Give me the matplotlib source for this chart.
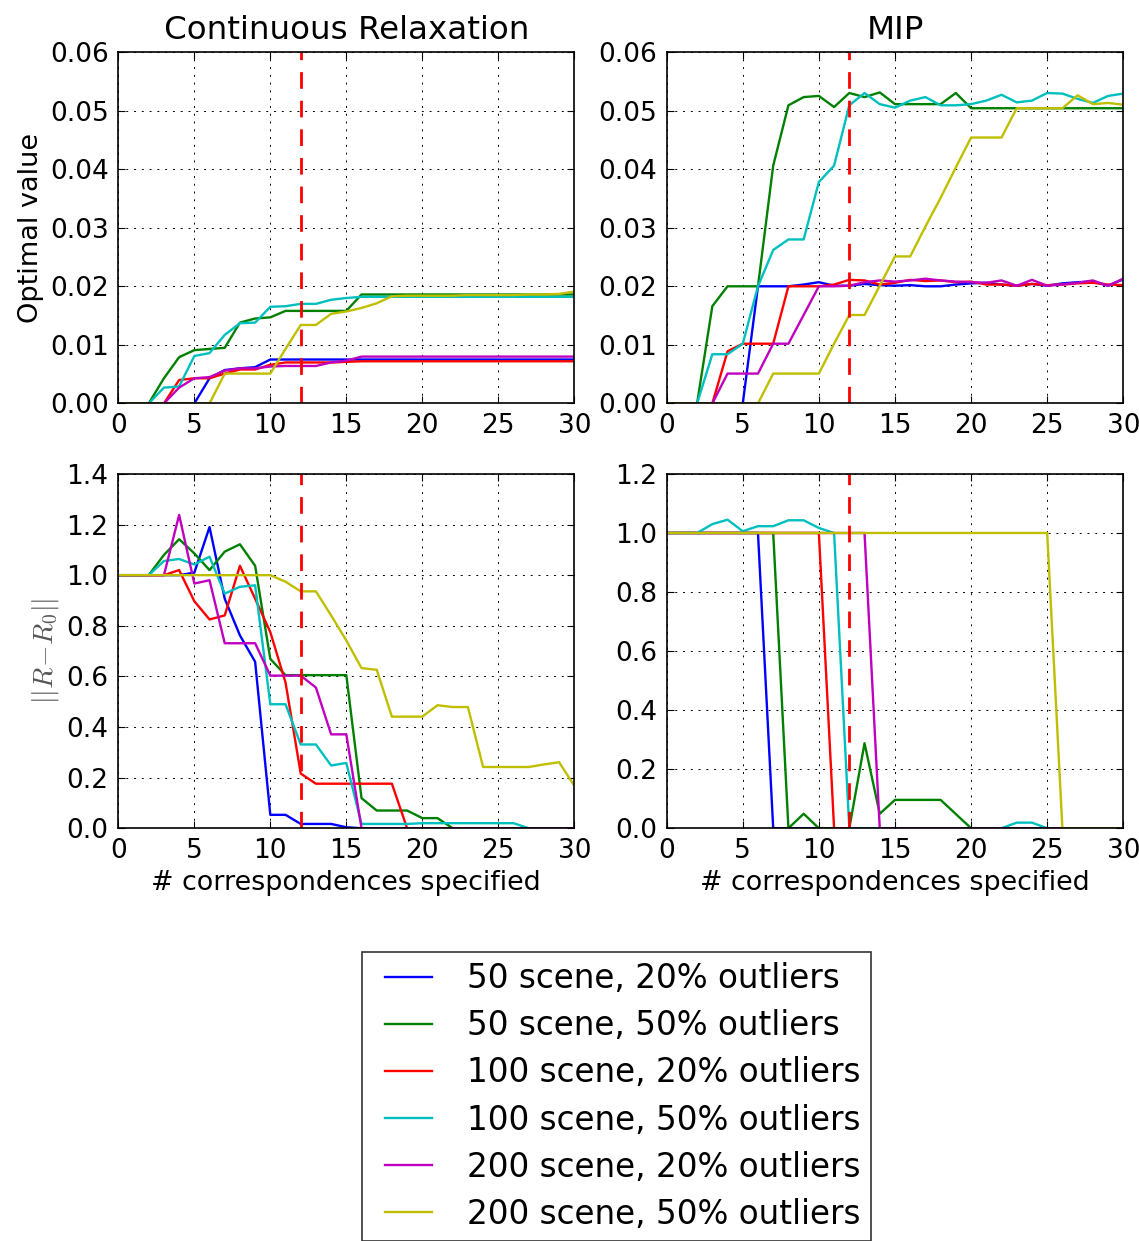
import matplotlib
matplotlib.use("Agg")
import matplotlib.pyplot as plt
import numpy as np
from matplotlib.legend_handler import HandlerLine2D

plt.rcParams.update({
    "font.family": ["DejaVu Sans"],
    "font.size": 19,
    "xtick.direction": "in",
    "ytick.direction": "in",
    "xtick.top": True,
    "ytick.right": True,
    "xtick.major.size": 5,
    "ytick.major.size": 5,
    "xtick.major.pad": 7,
    "ytick.major.pad": 7,
    "axes.linewidth": 1.2,
    "mathtext.fontset": "cm",
})

x = np.arange(31)

labels = [
    "50 scene, 20% outliers",
    "50 scene, 50% outliers",
    "100 scene, 20% outliers",
    "100 scene, 50% outliers",
    "200 scene, 20% outliers",
    "200 scene, 50% outliers",
]
colors = ["#0000ff", "#008000", "#ff0000", "#00bfbf", "#bf00bf", "#bfbf00"]

# Optimal value, continuous relaxation
cr_opt_50_20 = [0, 0, 0, 0, 0, 0, 0.0043, 0.0057, 0.0060, 0.0062, 0.0075,
                0.0075, 0.0075, 0.0075, 0.0075, 0.0075, 0.0075, 0.0075, 0.0075, 0.0075, 0.0075,
                0.0075, 0.0075, 0.0075, 0.0075, 0.0075, 0.0075, 0.0075, 0.0075, 0.0075, 0.0075]
cr_opt_50_50 = [0, 0, 0, 0.0043, 0.0079, 0.0091, 0.0093, 0.0095, 0.0138, 0.0145, 0.0147,
                0.0158, 0.0158, 0.0158, 0.0158, 0.0158, 0.0186, 0.0186, 0.0186, 0.0186, 0.0186,
                0.0186, 0.0186, 0.0186, 0.0186, 0.0186, 0.0186, 0.0186, 0.0186, 0.0186, 0.0186]
cr_opt_100_20 = [0, 0, 0, 0, 0.0040, 0.0043, 0.0043, 0.0051, 0.0058, 0.0058, 0.0066,
                 0.0070, 0.0070, 0.0070, 0.0070, 0.0071, 0.0072, 0.0072, 0.0072, 0.0072, 0.0072,
                 0.0072, 0.0072, 0.0072, 0.0072, 0.0072, 0.0072, 0.0072, 0.0072, 0.0072, 0.0072]
cr_opt_100_50 = [0, 0, 0, 0.0027, 0.0029, 0.0081, 0.0086, 0.0117, 0.0137, 0.0138, 0.0165,
                 0.0166, 0.0170, 0.0170, 0.0177, 0.0180, 0.0182, 0.0182, 0.0182, 0.0182, 0.0182,
                 0.0182, 0.0182, 0.0182, 0.0182, 0.0182, 0.0182, 0.0182, 0.0182, 0.0182, 0.0182]
cr_opt_200_20 = [0, 0, 0, 0, 0.0027, 0.0043, 0.0045, 0.0056, 0.0060, 0.0060, 0.0063,
                 0.0064, 0.0064, 0.0064, 0.0070, 0.0073, 0.0080, 0.0080, 0.0080, 0.0080, 0.0080,
                 0.0080, 0.0080, 0.0080, 0.0080, 0.0080, 0.0080, 0.0080, 0.0080, 0.0080, 0.0080]
cr_opt_200_50 = [0, 0, 0, 0, 0, 0, 0, 0.0051, 0.0051, 0.0051, 0.0051,
                 0.0093, 0.0134, 0.0134, 0.0153, 0.0157, 0.0163, 0.0171, 0.0183, 0.0184, 0.0184,
                 0.0184, 0.0184, 0.0185, 0.0185, 0.0185, 0.0185, 0.0186, 0.0186, 0.0187, 0.0191]

# Optimal value, MIP
mip_opt_50_20 = [0, 0, 0, 0, 0, 0, 0.0200, 0.0200, 0.0200, 0.0203, 0.0207,
                 0.0201, 0.0201, 0.0204, 0.0202, 0.0201, 0.0202, 0.0200, 0.0200, 0.0203, 0.0205,
                 0.0206, 0.0203, 0.0201, 0.0204, 0.0201, 0.0205, 0.0207, 0.0208, 0.0201, 0.0212]
mip_opt_50_50 = [0, 0, 0, 0.0166, 0.0200, 0.0200, 0.0200, 0.0406, 0.0509, 0.0523, 0.0525,
                 0.0506, 0.0530, 0.0523, 0.0531, 0.0511, 0.0511, 0.0511, 0.0511, 0.0530, 0.0504,
                 0.0504, 0.0504, 0.0504, 0.0504, 0.0504, 0.0504, 0.0504, 0.0504, 0.0504, 0.0504]
mip_opt_100_20 = [0, 0, 0, 0, 0.0089, 0.0102, 0.0102, 0.0102, 0.0200, 0.0200, 0.0200,
                  0.0203, 0.0211, 0.0210, 0.0203, 0.0206, 0.0211, 0.0209, 0.0210, 0.0207, 0.0208,
                  0.0203, 0.0203, 0.0201, 0.0204, 0.0202, 0.0203, 0.0205, 0.0206, 0.0203, 0.0202]
mip_opt_100_50 = [0, 0, 0, 0.0084, 0.0084, 0.0102, 0.0200, 0.0262, 0.0280, 0.0280, 0.0378,
                  0.0406, 0.0509, 0.0530, 0.0511, 0.0505, 0.0517, 0.0523, 0.0509, 0.0509, 0.0511,
                  0.0517, 0.0527, 0.0514, 0.0517, 0.0530, 0.0529, 0.0520, 0.0513, 0.0525, 0.0529]
mip_opt_200_20 = [0, 0, 0, 0, 0.0051, 0.0051, 0.0051, 0.0102, 0.0102, 0.0151, 0.0200,
                  0.0200, 0.0201, 0.0207, 0.0210, 0.0208, 0.0210, 0.0213, 0.0210, 0.0208, 0.0207,
                  0.0206, 0.0210, 0.0201, 0.0211, 0.0201, 0.0203, 0.0206, 0.0210, 0.0201, 0.0213]
mip_opt_200_50 = [0, 0, 0, 0, 0, 0, 0, 0.0051, 0.0051, 0.0051, 0.0051,
                  0.0102, 0.0151, 0.0151, 0.0201, 0.0251, 0.0251, 0.0302, 0.0351, 0.0403, 0.0454,
                  0.0454, 0.0454, 0.0504, 0.0504, 0.0504, 0.0504, 0.0526, 0.0511, 0.0513, 0.0510]

# Rotation error, continuous relaxation
cr_err_50_20 = [1, 1, 1, 1, 1, 1.01, 1.19, 0.907, 0.762, 0.658, 0.053,
                0.053, 0.017, 0.017, 0.017, 0.004, 0, 0, 0, 0, 0,
                0, 0, 0, 0, 0, 0, 0, 0, 0, 0]
cr_err_50_50 = [1, 1, 1, 1.08, 1.142, 1.086, 1.02, 1.093, 1.122, 1.037, 0.669,
                0.605, 0.605, 0.605, 0.605, 0.605, 0.119, 0.07, 0.07, 0.07, 0.04,
                0.04, 0, 0, 0, 0, 0, 0, 0, 0, 0]
cr_err_100_20 = [1, 1, 1, 1, 1.02, 0.897, 0.825, 0.841, 1.037, 0.907, 0.775,
                 0.576, 0.216, 0.176, 0.176, 0.176, 0.176, 0.176, 0.176, 0, 0,
                 0, 0, 0, 0, 0, 0, 0, 0, 0, 0]
cr_err_100_50 = [1, 1, 1, 1.056, 1.064, 1.042, 1.073, 0.927, 0.954, 0.96, 0.49,
                 0.49, 0.331, 0.331, 0.248, 0.258, 0.017, 0.017, 0.017, 0.017, 0.02,
                 0.02, 0.02, 0.02, 0.02, 0.02, 0.02, 0, 0, 0, 0]
cr_err_200_20 = [1, 1, 1, 1, 1.238, 0.967, 0.98, 0.731, 0.731, 0.731, 0.603,
                 0.603, 0.603, 0.556, 0.371, 0.371, 0, 0, 0, 0, 0,
                 0, 0, 0, 0, 0, 0, 0, 0, 0, 0]
cr_err_200_50 = [1, 1, 1, 1, 1, 1, 1, 1, 1, 1, 1,
                 0.974, 0.936, 0.936, 0.841, 0.742, 0.633, 0.626, 0.441, 0.441, 0.441,
                 0.486, 0.479, 0.479, 0.242, 0.242, 0.242, 0.242, 0.252, 0.261, 0.168]

# Rotation error, MIP
mip_err_50_20 = [1, 1, 1, 1, 1, 1, 1, 0, 0, 0, 0,
                 0, 0, 0, 0, 0, 0, 0, 0, 0, 0,
                 0, 0, 0, 0, 0, 0, 0, 0, 0, 0]
mip_err_50_50 = [1, 1, 1, 1, 1, 1, 1, 1, 0, 0.049, 0,
                 0, 0, 0.288, 0.049, 0.096, 0.096, 0.096, 0.096, 0.048, 0,
                 0, 0, 0, 0, 0, 0, 0, 0, 0, 0]
mip_err_100_20 = [1, 1, 1, 1, 1, 1, 1, 1, 1, 1, 1,
                  0, 0, 0, 0, 0, 0, 0, 0, 0, 0,
                  0, 0, 0, 0, 0, 0, 0, 0, 0, 0]
mip_err_100_50 = [1, 1, 1, 1.03, 1.045, 1.006, 1.023, 1.023, 1.043, 1.043, 1.017,
                  1.0, 0, 0, 0, 0, 0, 0, 0, 0, 0,
                  0, 0, 0.019, 0.019, 0, 0, 0, 0, 0, 0]
mip_err_200_20 = [1, 1, 1, 1, 1, 1, 1, 1, 1, 1, 1,
                  1, 1, 1, 0, 0, 0, 0, 0, 0, 0,
                  0, 0, 0, 0, 0, 0, 0, 0, 0, 0]
mip_err_200_50 = [1, 1, 1, 1, 1, 1, 1, 1, 1, 1, 1,
                  1, 1, 1, 1, 1, 1, 1, 1, 1, 1,
                  1, 1, 1, 1, 1, 0, 0, 0, 0, 0]

threshold = 12

panels = [
    ([cr_opt_50_20, cr_opt_50_50, cr_opt_100_20, cr_opt_100_50, cr_opt_200_20, cr_opt_200_50],
     (0.06, 0.01, "%.2f")),
    ([mip_opt_50_20, mip_opt_50_50, mip_opt_100_20, mip_opt_100_50, mip_opt_200_20, mip_opt_200_50],
     (0.06, 0.01, "%.2f")),
    ([cr_err_50_20, cr_err_50_50, cr_err_100_20, cr_err_100_50, cr_err_200_20, cr_err_200_50],
     (1.4, 0.2, "%.1f")),
    ([mip_err_50_20, mip_err_50_50, mip_err_100_20, mip_err_100_50, mip_err_200_20, mip_err_200_50],
     (1.2, 0.2, "%.1f")),
]


class InsetLineHandler(HandlerLine2D):
    """Legend line that leaves an empty margin on the left of its handle box."""

    def __init__(self, inset_frac=0.21, **kw):
        super().__init__(**kw)
        self.inset_frac = inset_frac

    def create_artists(self, legend, orig_handle, xdescent, ydescent,
                       width, height, fontsize, trans):
        artists = super().create_artists(legend, orig_handle, xdescent, ydescent,
                                         width, height, fontsize, trans)
        x0 = -xdescent + self.inset_frac * width
        x1 = -xdescent + width
        for a in artists:
            xd = np.asarray(a.get_xdata(), dtype=float)
            if xd.size >= 2:
                a.set_xdata(np.linspace(x0, x1, xd.size))
        return artists


fig = plt.figure(figsize=(11.39, 12.41), dpi=100)
fig.patch.set_facecolor("white")

rects = [
    [0.1039, 0.6749, 0.4003, 0.2832],
    [0.5853, 0.6749, 0.4009, 0.2832],
    [0.1039, 0.3326, 0.4003, 0.2855],
    [0.5853, 0.3326, 0.4009, 0.2855],
]

axes = []
handles = []
for i, (rect, (series, (ymax, ystep, fmt))) in enumerate(zip(rects, panels)):
    ax = fig.add_axes(rect)
    axes.append(ax)
    for s, c, lab in zip(series, colors, labels):
        h, = ax.plot(x, s, color=c, lw=1.7, label=lab)
        if i == 0:
            handles.append(h)
    ax.axvline(threshold, color="#ff0000", lw=2.0, ls=(0, (6, 4.3)))
    ax.set_xlim(0, 30)
    ax.set_ylim(0, ymax)
    ax.set_xticks(np.arange(0, 31, 5))
    ax.set_yticks(np.arange(0, ymax + ystep / 2, ystep))
    ax.yaxis.set_major_formatter(matplotlib.ticker.FormatStrFormatter(fmt))
    ax.grid(True, color="black", ls=(0, (2, 6)), lw=0.7)
    ax.set_axisbelow(True)

axes[0].set_title("Continuous Relaxation", fontsize=23.4, pad=9)
axes[1].set_title("MIP", fontsize=23.4, pad=9)
axes[0].set_ylabel("Optimal value", fontsize=19.5)
axes[2].set_ylabel(r"$||R\!-\!R_0||$", fontsize=20, color="#555555")
axes[2].set_xlabel("# correspondences specified", fontsize=19.4)
axes[3].set_xlabel("# correspondences specified", fontsize=19.4)

leg = fig.legend(handles, labels, loc="upper left", bbox_to_anchor=(0.3178, 0.2329),
                 fontsize=23.5, handlelength=1.83, handletextpad=1.07, labelspacing=0.43,
                 borderpad=0.32, borderaxespad=0.0, fancybox=False, frameon=True,
                 handler_map={matplotlib.lines.Line2D: InsetLineHandler(inset_frac=0.21)})
leg.get_frame().set_edgecolor("black")
leg.get_frame().set_linewidth(1.2)

fig.savefig("out.png", dpi=100, facecolor="white")
